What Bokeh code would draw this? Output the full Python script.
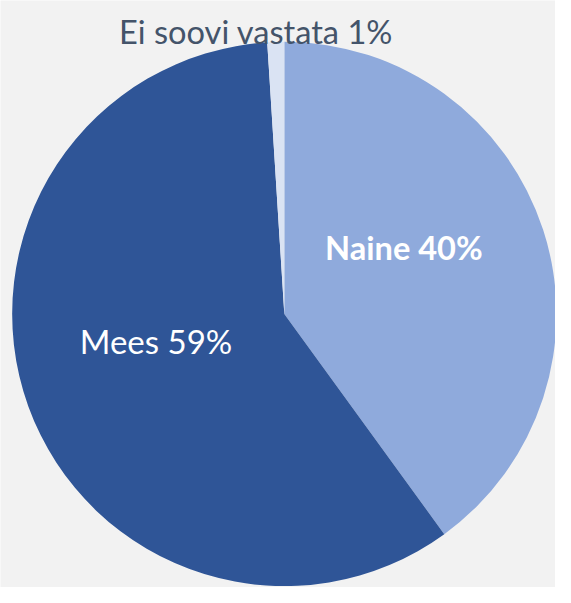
import numpy as np
from bokeh.plotting import figure
from bokeh.models import Range1d, ColumnDataSource
from bokeh.core.properties import value
from bokeh.embed import file_html
from bokeh.resources import INLINE

# ---- data ----
categories = ["Naine", "Mees", "Ei soovi vastata"]
shares = [40, 59, 1]
colors = ["#8FAADC", "#2F5597", "#DAE3F3"]

# ---- layout (reference pixel space 571x603, y downward) ----
W, H = 571, 603
PW, PH = 555, 587
S = PW / W
cx, cy, R = 292, 322, 280

vals = np.array(shares, dtype=float)
frac = vals / vals.sum()
cum = np.concatenate([[0], np.cumsum(frac)])
start = np.pi / 2 - cum[:-1] * 2 * np.pi
end = np.pi / 2 - cum[1:] * 2 * np.pi

src = ColumnDataSource(dict(cat=categories, start=start, end=end, color=colors))

p = figure(width=PW, height=PH, output_backend="svg", toolbar_location=None,
           x_range=Range1d(0, W), y_range=Range1d(0, H), min_border=0)
p.axis.visible = False
p.grid.visible = False
p.outline_line_color = None
p.background_fill_color = "#F2F2F2"
p.border_fill_color = "#F2F2F2"

p.wedge(x=cx, y=H - cy, radius=R, start_angle="start", end_angle="end",
        direction="clock", fill_color="color", line_color=None, source=src)

labels = [f"{c} {int(round(v))}%" for c, v in zip(categories, shares)]
# label anchor positions (reference pixels: center x, baseline y)
lab_pos = [(415, 254), (160, 350), (263, 32)]
lab_color = ["white", "white", "#44546A"]
lab_style = ["bold", "normal", "normal"]
lab_size = [33.5, 34, 33.5]

for t, (lx, ly), c, st, fs in zip(labels, lab_pos, lab_color, lab_style, lab_size):
    p.text(x=[lx], y=[H - ly], text=[t], text_align="center",
           text_baseline="alphabetic", text_color=c,
           text_font=value("Lato"), text_font_style=st,
           text_font_size=f"{fs * S:.1f}px")

open("out.html", "w").write(file_html(p, INLINE))
